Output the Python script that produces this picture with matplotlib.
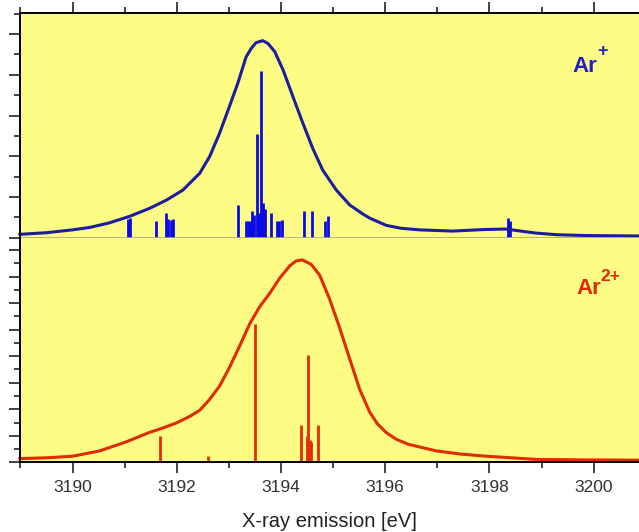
import numpy as np
import matplotlib.pyplot as plt
from matplotlib.ticker import MultipleLocator

plt.rcParams['font.family'] = ['Liberation Sans', 'DejaVu Sans']

# Ar+ envelope (energy in eV, intensity in arb. units)
ar1_e = [3188.99, 3189.5, 3190.0, 3190.33, 3190.7, 3191.09, 3191.48, 3191.80,
         3192.12, 3192.44, 3192.63, 3192.82, 3193.01, 3193.17, 3193.33, 3193.43,
         3193.52, 3193.65, 3193.75, 3193.88, 3194.04, 3194.23, 3194.42, 3194.61,
         3194.80, 3195.06, 3195.32, 3195.57, 3195.70, 3196.02, 3196.30, 3196.66,
         3197.29, 3197.94, 3198.32, 3198.60, 3198.90, 3199.30, 3199.86, 3200.86]
ar1_y = [0.08, 0.12, 0.19, 0.25, 0.36, 0.52, 0.72, 0.92,
         1.17, 1.58, 1.99, 2.56, 3.22, 3.79, 4.44, 4.65,
         4.79, 4.84, 4.77, 4.57, 4.12, 3.46, 2.81, 2.19,
         1.66, 1.17, 0.80, 0.58, 0.48, 0.30, 0.23, 0.19,
         0.16, 0.20, 0.21, 0.16, 0.11, 0.07, 0.05, 0.04]

# Ar+ transition lines
ar1_line_e = [3191.06, 3191.11, 3191.61, 3191.79, 3191.84, 3191.88, 3191.92,
              3193.17, 3193.33, 3193.37, 3193.41, 3193.45, 3193.49, 3193.54,
              3193.58, 3193.62, 3193.66, 3193.70, 3193.81, 3193.92, 3193.96,
              3194.01, 3194.44, 3194.59, 3194.84, 3194.90, 3198.36, 3198.39]
ar1_line_h = [0.45, 0.48, 0.41, 0.60, 0.45, 0.43, 0.45,
              0.79, 0.41, 0.41, 0.41, 0.65, 0.55, 2.54,
              0.60, 4.10, 0.84, 0.70, 0.60, 0.41, 0.41,
              0.44, 0.66, 0.66, 0.41, 0.52, 0.48, 0.40]

# Ar2+ envelope
ar2_e = [3188.99, 3189.5, 3190.0, 3190.52, 3191.03, 3191.48, 3191.67, 3191.99,
         3192.25, 3192.44, 3192.63, 3192.82, 3193.01, 3193.21, 3193.40, 3193.59,
         3193.78, 3193.97, 3194.17, 3194.29, 3194.41, 3194.58, 3194.74, 3194.93,
         3195.12, 3195.32, 3195.51, 3195.70, 3195.85, 3196.02, 3196.21, 3196.44,
         3196.98, 3197.45, 3197.94, 3198.90, 3199.80, 3200.86]
ar2_y = [0.14, 0.17, 0.23, 0.43, 0.77, 1.13, 1.25, 1.48,
         1.73, 1.96, 2.37, 2.87, 3.57, 4.40, 5.22, 5.86,
         6.36, 6.93, 7.41, 7.59, 7.63, 7.46, 7.06, 6.17,
         5.10, 3.89, 2.75, 1.90, 1.45, 1.12, 0.87, 0.68,
         0.43, 0.31, 0.23, 0.11, 0.09, 0.08]

# Ar2+ transition lines
ar2_line_e = [3191.68, 3192.59, 3193.51, 3194.39, 3194.49, 3194.52, 3194.55,
              3194.58, 3194.71]
ar2_line_h = [1.01, 0.22, 5.22, 1.42, 1.01, 4.04, 0.85, 0.75, 1.42]

bg = '#fdfd86'
fig = plt.figure(figsize=(6.39, 5.32), dpi=100)
ax1 = fig.add_axes([0.032, 0.5534, 0.968, 0.4222])
ax2 = fig.add_axes([0.032, 0.1310, 0.968, 0.4224], sharex=ax1)

for ax in (ax1, ax2):
    ax.set_facecolor(bg)
    ax.spines['right'].set_visible(False)
    ax.xaxis.set_major_locator(MultipleLocator(2))
    ax.xaxis.set_minor_locator(MultipleLocator(1))
    ax.yaxis.set_major_locator(MultipleLocator(1))
    ax.yaxis.set_minor_locator(MultipleLocator(0.5))
    ax.tick_params(which='major', direction='out', length=8, width=1.2, color='#222222')
    ax.tick_params(which='minor', direction='out', length=4.5, width=1.2, color='#222222')
    ax.tick_params(axis='y', labelleft=False)
    ax.spines['left'].set_linewidth(1.4)

ax1.set_xlim(3189, 3200.87)
ax1.set_ylim(0, 5.52)
ax2.set_ylim(0, 8.47)

ax1.spines['top'].set_linewidth(1.4)
ax1.spines['bottom'].set_color('#a8a878')
ax1.spines['bottom'].set_linewidth(1.2)
ax1.tick_params(axis='x', which='both', top=True, bottom=False, labeltop=False, labelbottom=False)

ax2.spines['top'].set_visible(False)
ax2.spines['bottom'].set_linewidth(1.4)
ax2.tick_params(axis='x', which='both', labelsize=12.5, pad=5, labelcolor='#333333')

ax1.vlines(ar1_line_e, 0, ar1_line_h, color='#0a0ae6', lw=2.0)
ax1.plot(ar1_e, ar1_y, color='#1c1c9c', lw=2.2, clip_on=False)
ax2.vlines(ar2_line_e, 0, ar2_line_h, color='#e82a0c', lw=2.0)
ax2.plot(ar2_e, ar2_y, color='#e02a00', lw=2.2, clip_on=False)

# ion labels: base text plus a larger superscript
blue_txt = '#1f1fc8'
red_txt = '#e02a00'
ax1.text(3199.6, 4.07, 'Ar', color=blue_txt, fontsize=16, fontweight='bold',
         ha='left', va='baseline')
ax1.text(3200.06, 4.47, '+', color=blue_txt, fontsize=13, fontweight='bold',
         ha='left', va='baseline')
ax2.text(3199.67, 6.36, 'Ar', color=red_txt, fontsize=16, fontweight='bold',
         ha='left', va='baseline')
ax2.text(3200.12, 6.85, '2+', color=red_txt, fontsize=12.5, fontweight='bold',
         ha='left', va='baseline')

ax2.set_xlabel('X-ray emission [eV]', fontsize=14.5, color='#222222', labelpad=12)

fig.savefig('out.png', dpi=100, facecolor='white')
